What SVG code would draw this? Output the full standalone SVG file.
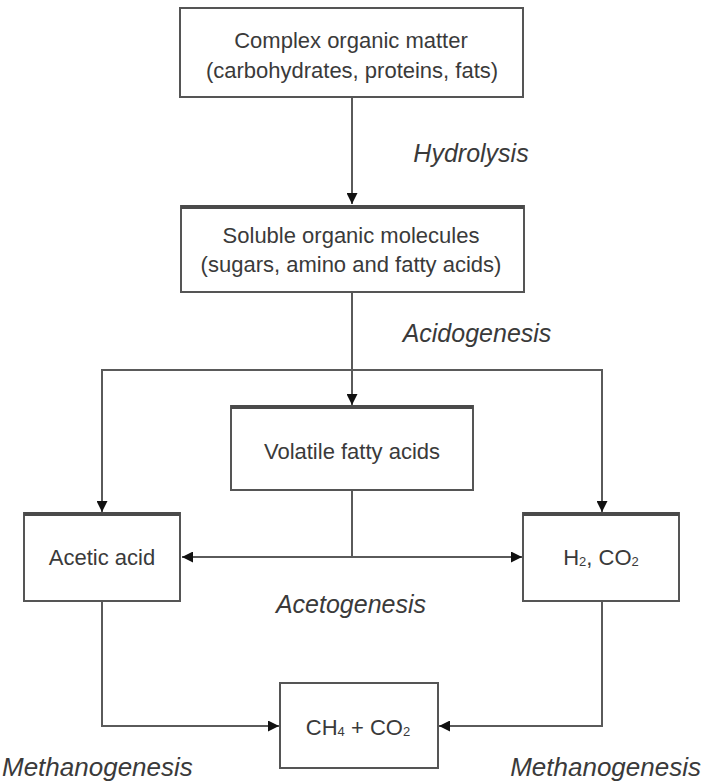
<svg xmlns="http://www.w3.org/2000/svg" width="703" height="784" viewBox="0 0 703 784">
<style>
.box{fill:#fff;stroke:#555;stroke-width:2}
.top{stroke:#4a4a4a;stroke-width:4;fill:none}
.t{font-family:"Liberation Sans",Arial,sans-serif;font-size:22px;fill:#3a3a3a;text-anchor:middle;dominant-baseline:central}
.lab{font-family:"Liberation Sans",Arial,sans-serif;font-size:25px;font-style:italic;fill:#3a3a3a}
.meth{font-size:26px}
.sub{font-size:13px}
.c{fill:none;stroke:#5a5a5a;stroke-width:2}
</style>
<defs>
<marker id="ah" viewBox="0 0 10 10" refX="10" refY="5" markerWidth="5.5" markerHeight="5.5" orient="auto" markerUnits="strokeWidth">
<path d="M0,0 L10,5 L0,10 z" fill="#111"/>
</marker>
</defs>
<rect width="703" height="784" fill="#fff"/>
<g id="connectors">
<path class="c" d="M352,97 V204" marker-end="url(#ah)"/>
<path class="c" d="M352,292 V405" marker-end="url(#ah)"/>
<path class="c" d="M102,512 V370 H602 V512" marker-end="url(#ah)"/>
<path class="c" d="M102,370 V512" marker-end="url(#ah)"/>
<path class="c" d="M352,490 V557 H182" marker-end="url(#ah)"/>
<path class="c" d="M352,557 H522" marker-end="url(#ah)"/>
<path class="c" d="M102,601 V726 H279" marker-end="url(#ah)"/>
<path class="c" d="M602,601 V726 H439" marker-end="url(#ah)"/>
</g>
<g id="complex">
<rect class="box" x="180" y="8" width="343" height="89"/>
<text class="t" x="351" y="40">Complex organic matter</text>
<text class="t" x="352" y="70">(carbohydrates, proteins, fats)</text>
</g>
<g id="soluble">
<rect class="box" x="181" y="206" width="343" height="86"/>
<line class="top" x1="181" y1="207" x2="524" y2="207"/>
<text class="t" x="351" y="235">Soluble organic molecules</text>
<text class="t" x="351" y="264">(sugars, amino and fatty acids)</text>
</g>
<g id="vfa">
<rect class="box" x="231" y="406" width="242" height="84"/>
<line class="top" x1="231" y1="407" x2="473" y2="407"/>
<text class="t" x="352" y="451">Volatile fatty acids</text>
</g>
<g id="acetic">
<rect class="box" x="24" y="513" width="156" height="88"/>
<line class="top" x1="24" y1="514" x2="180" y2="514"/>
<text class="t" x="102" y="557">Acetic acid</text>
</g>
<g id="h2co2">
<rect class="box" x="523" y="513" width="156" height="88"/>
<line class="top" x1="523" y1="514" x2="679" y2="514"/>
<text class="t" x="601" y="557">H<tspan class="sub" dy="4">2</tspan><tspan dy="-4">, CO</tspan><tspan class="sub" dy="4">2</tspan></text>
</g>
<g id="ch4co2">
<rect class="box" x="280" y="683" width="158" height="85"/>
<text class="t" x="358" y="727">CH<tspan class="sub" dy="4">4</tspan><tspan dy="-4"> + CO</tspan><tspan class="sub" dy="4">2</tspan></text>
</g>
<g id="labels">
<text class="lab" x="471" y="162" text-anchor="middle">Hydrolysis</text>
<text class="lab" x="477" y="342" text-anchor="middle">Acidogenesis</text>
<text class="lab" x="351" y="613" text-anchor="middle">Acetogenesis</text>
<text class="lab meth" x="2" y="776">Methanogenesis</text>
<text class="lab meth" x="701" y="776" text-anchor="end">Methanogenesis</text>
</g>
</svg>
